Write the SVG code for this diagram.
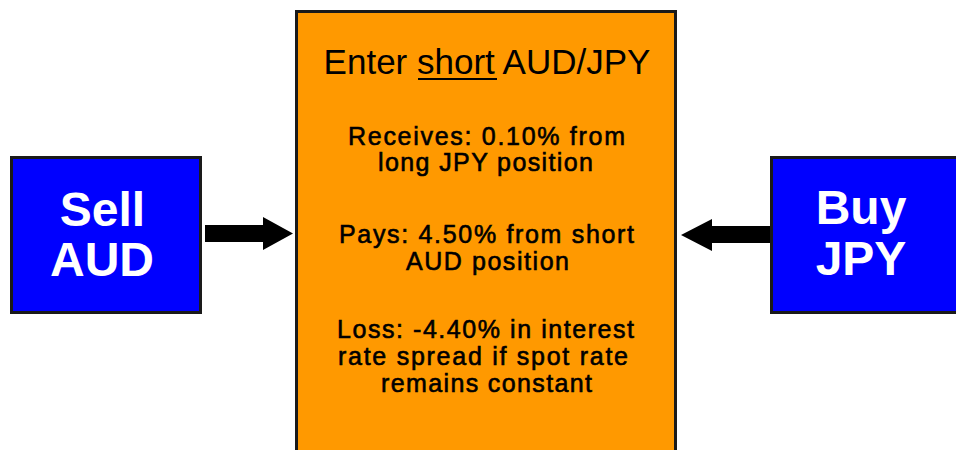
<svg xmlns="http://www.w3.org/2000/svg" width="956" height="450" viewBox="0 0 956 450">
<style>
.box{stroke:#1a1a1a;stroke-width:3}
.blue{fill:#0000FF}
.orange{fill:#FF9900}
.big{font-family:"Liberation Sans",Arial,sans-serif;font-weight:bold;font-size:48px;fill:#fff;text-anchor:middle}
.title{font-family:"Liberation Sans",Arial,sans-serif;font-size:35px;fill:#000;text-anchor:middle}
.body{font-family:"Liberation Sans",Arial,sans-serif;font-size:25px;fill:#000;text-anchor:middle;stroke:#000;stroke-width:0.6}
.arrow{fill:#000}
</style>
<rect width="956" height="450" fill="#fff"/>
<g id="center">
<rect class="box orange" x="296.5" y="11.5" width="379" height="450"/>
<text class="title" x="487" y="74">Enter short AUD/JPY</text>
<rect x="418" y="78" width="79" height="2" fill="#000"/>
<text class="body" x="486.5" y="145" textLength="277" lengthAdjust="spacing">Receives: 0.10% from</text>
<text class="body" x="485.5" y="171" textLength="215" lengthAdjust="spacing">long JPY position</text>
<text class="body" x="486.5" y="243" textLength="295" lengthAdjust="spacing">Pays: 4.50% from short</text>
<text class="body" x="487.5" y="270" textLength="163" lengthAdjust="spacing">AUD position</text>
<text class="body" x="485.5" y="338" textLength="297" lengthAdjust="spacing">Loss: -4.40% in interest</text>
<text class="body" x="483" y="365" textLength="290" lengthAdjust="spacing">rate spread if spot rate</text>
<text class="body" x="486.5" y="392" textLength="211" lengthAdjust="spacing">remains constant</text>
</g>
<g id="sell">
<rect class="box blue" x="11.5" y="157.5" width="189" height="155"/>
<text class="big" x="102.5" y="226">Sell</text>
<text class="big" x="102" y="276">AUD</text>
</g>
<g id="buy">
<rect class="box blue" x="771.5" y="157.5" width="200" height="155"/>
<text class="big" x="861" y="224">Buy</text>
<text class="big" x="861" y="275">JPY</text>
</g>
<g id="connectors">
<polygon class="arrow" points="205,225 263,225 263,217 293,233.5 263,250 263,242 205,242"/>
<polygon class="arrow" points="770,226 712,226 712,219 681,235 712,251 712,243 770,243"/>
</g>
</svg>
